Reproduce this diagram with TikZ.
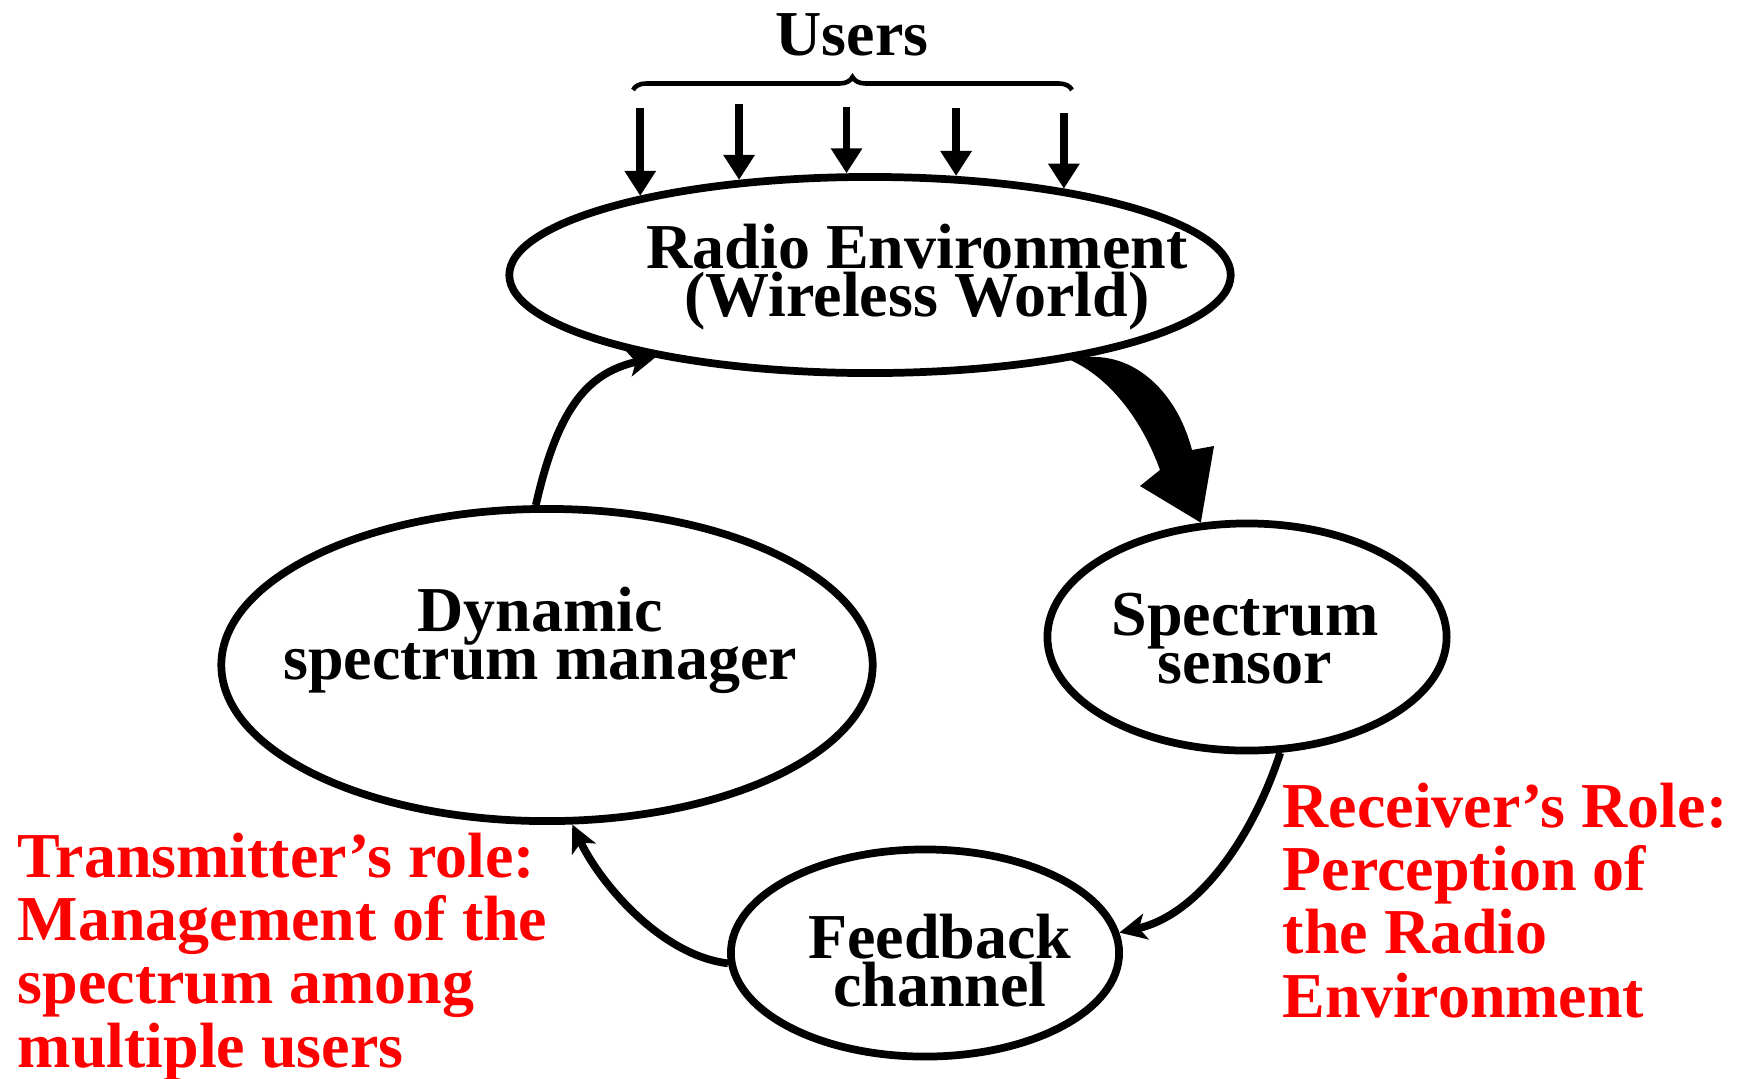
\documentclass[tikz,border=0pt]{standalone}
\usepackage{fontspec}
\setmainfont{Liberation Serif}
\usetikzlibrary{arrows.meta,decorations.pathreplacing,shapes.geometric}
\lineskiplimit=-100pt
\lineskip=0pt
\begin{document}
\begin{tikzpicture}[x=0.01cm,y=-0.01cm,
  ell/.style={draw,ellipse,line width=2.2pt,inner sep=0pt},
  lbl/.style={font=\fontsize{18.2}{13.4}\selectfont\bfseries, align=center, inner sep=0pt, anchor=base},
  redlbl/.style={text=red, font=\fontsize{18.2}{18}\selectfont\bfseries, align=left, inner sep=0pt, anchor=base west},
  conn/.style={line width=2.2pt, -{Stealth[length=0.27cm,width=0.26cm,inset=0.07cm]}},
  userarrow/.style={line width=2.2pt, -{Triangle[length=0.25cm,width=0.3cm]}}]
\path[use as bounding box, fill=white] (0,0) rectangle (1752,1078);

% ellipses
\node[ell, minimum width=7.21cm, minimum height=1.96cm] (re) at (870,275) {};
\node[ell, minimum width=6.51cm, minimum height=3.12cm] (dsm) at (547,665) {};
\node[ell, minimum width=3.99cm, minimum height=2.27cm] (ss) at (1247,637) {};
\node[ell, minimum width=3.88cm, minimum height=2.07cm] (fb) at (925,953) {};

% texts (anchor = baseline of last line)
\node[lbl] (users) at (852,55) {Users};
\node[lbl] (ret) at (917,316) {Radio Environment\\(Wireless World)};
\node[lbl] (dsmt) at (540,679) {Dynamic\\spectrum manager};
\node[lbl] (sst) at (1245,683) {Spectrum\\sensor};
\node[lbl] (fbt) at (940,1006) {Feedback\\channel};
\node[redlbl] (tx) at (17,1067) {Transmitter’s role:\\Management of the\\spectrum among\\multiple users};
\node[redlbl] (rx) at (1282,1017) {Receiver’s Role:\\Perception of\\the Radio\\Environment};

% brace
\coordinate (bl) at (633,90);
\coordinate (br) at (1072,90);
\draw[decorate, decoration={brace, amplitude=0.13cm}, line width=1.3pt] (bl) -- (br);

% user arrows
\coordinate (u1) at (re.161 |- 0,108);
\coordinate (u2) at (re.144 |- 0,104);
\coordinate (u3) at (re.103 |- 0,107);
\coordinate (u4) at (re.49 |- 0,108);
\coordinate (u5) at (re.24 |- 0,113);
\draw[userarrow] (u1) -- (re.161);
\draw[userarrow] (u2) -- (re.144);
\draw[userarrow] (u3) -- (re.103);
\draw[userarrow] (u4) -- (re.49);
\draw[userarrow] (u5) -- (re.24);

% thick arrow radio environment -> spectrum sensor
\fill (re.-23) .. controls (1125,345) and (1175,385) .. (1192,450) -- (1214,446) -- (ss.112) -- (1140,486) -- (1160,470) .. controls (1142,420) and (1110,378) .. (re.-23) -- cycle;

% connectors
\draw[conn] (dsm.94) .. controls +(23,-102) and +(-65,15) .. (re.201);
\draw[conn] (fb.183) .. controls +(-67,-8) and +(28,59) .. (dsm.-81);
\draw[conn] (ss.-74) .. controls +(-27,83) and +(80,-18) .. (fb.6);
\end{tikzpicture}
\end{document}
